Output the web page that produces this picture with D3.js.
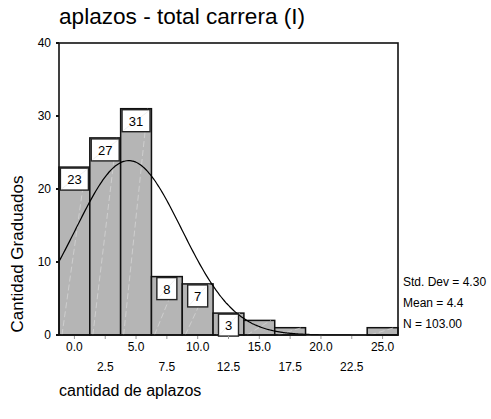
<!DOCTYPE html>
<html>
<head>
<meta charset="utf-8">
<script src="https://cdn.jsdelivr.net/npm/d3@7"></script>
<style>
  body { margin: 0; background: #fff; }
  text { font-family: "Liberation Sans", Arial, sans-serif; fill: #000; }
</style>
</head>
<body>
<svg id="hist" width="491" height="419"></svg>
<script>
// bin centres (cantidad de aplazos) and counts
const binCenters = [0, 2.5, 5, 7.5, 10, 12.5, 15, 17.5, 20, 22.5, 25];
const counts = [23, 27, 31, 8, 7, 3, 2, 1, 0, 0, 1];
const labelledBins = [0, 1, 2, 3, 4, 5];
const yTicks = [0, 10, 20, 30, 40];
const xTicksTop = [0, 5, 10, 15, 20, 25];
const xTicksBottom = [2.5, 7.5, 12.5, 17.5, 22.5];
const stats = ["Std. Dev = 4.30", "Mean = 4.4", "N = 103.00"];
const MEAN = 4.4, SD = 4.30, N = 103, BIN_W = 2.5;

let svg = d3.select("#hist");

let x = d3.scaleLinear().domain([-1.25, 26.25]).range([59, 398]),
    y = d3.scaleLinear().domain([0, 40]).range([335, 43]);

// title
svg.append("text")
  .attr("x", 59).attr("y", 24)
  .style("font-size", "22.6px")
  .text("aplazos - total carrera (I)");

// bars
let bars = svg.append("g").selectAll("g")
  .data(counts.map((c, i) => ({c: c, m: binCenters[i], i: i})).filter(d => d.c > 0))
  .enter().append("g");

bars.append("rect")
  .attr("x", d => x(d.m - BIN_W / 2))
  .attr("y", d => y(d.c))
  .attr("width", d => x(d.m + BIN_W / 2) - x(d.m - BIN_W / 2))
  .attr("height", d => y(0) - y(d.c))
  .attr("fill", "#b5b5b5")
  .attr("stroke", "#111")
  .attr("stroke-width", 1.5);

// faint light streaks inside the bars
bars.append("line")
  .attr("x1", d => x(d.m - BIN_W / 2) + 3)
  .attr("y1", y(0))
  .attr("x2", d => x(d.m + BIN_W / 2) - 4)
  .attr("y2", d => y(d.c))
  .attr("stroke", "#d9d9d9")
  .attr("stroke-width", 0.7)
  .attr("stroke-dasharray", "6,3");

// normal curve
let curvePts = d3.range(-1.25, 26.26, 0.125).map(v => [v,
  N * BIN_W / (SD * Math.sqrt(2 * Math.PI)) * Math.exp(-0.5 * Math.pow((v - MEAN) / SD, 2))]);
svg.append("path")
  .datum(curvePts)
  .attr("fill", "none")
  .attr("stroke", "#000")
  .attr("stroke-width", 1.2)
  .attr("d", d3.line().x(d => x(d[0])).y(d => y(d[1])).curve(d3.curveBasis));

// frame
svg.append("rect")
  .attr("x", x.range()[0]).attr("y", y.range()[1])
  .attr("width", x.range()[1] - x.range()[0])
  .attr("height", y.range()[0] - y.range()[1])
  .attr("fill", "none")
  .attr("stroke", "#111")
  .attr("stroke-width", 1.6);

// count labels in white boxes
let lab = svg.append("g").selectAll("g")
  .data(labelledBins.map(i => ({c: counts[i], m: binCenters[i]})))
  .enter().append("g")
  .attr("transform", d => "translate(" + x(d.m) + "," + (y(d.c) + 1) + ")");

lab.append("rect")
  .attr("x", d => String(d.c).length > 1 ? -14 : -10)
  .attr("y", 0)
  .attr("width", d => String(d.c).length > 1 ? 28 : 20)
  .attr("height", 22)
  .attr("fill", "#fff")
  .attr("stroke", "#222")
  .attr("stroke-width", 1.4);

lab.append("line")
  .attr("x1", d => String(d.c).length > 1 ? -13 : -9)
  .attr("y1", 21)
  .attr("x2", d => String(d.c).length > 1 ? 13 : 9)
  .attr("y2", 1)
  .attr("stroke", "#e6e6e6")
  .attr("stroke-width", 0.6);

lab.append("text")
  .attr("x", 0).attr("y", 16)
  .attr("text-anchor", "middle")
  .style("font-size", "13px")
  .text(d => d.c);

// y axis ticks
let yAxis = svg.append("g");
yAxis.selectAll("line").data(yTicks).enter().append("line")
  .attr("x1", 56).attr("x2", 59)
  .attr("y1", d => y(d)).attr("y2", d => y(d))
  .attr("stroke", "#111").attr("stroke-width", 2);
yAxis.selectAll("text").data(yTicks).enter().append("text")
  .attr("x", 51).attr("y", d => y(d) + 4)
  .attr("text-anchor", "end")
  .style("font-size", "12px")
  .text(d => d);

// x axis ticks
svg.append("g").selectAll("line").data(binCenters).enter().append("line")
  .attr("x1", d => x(d)).attr("x2", d => x(d))
  .attr("y1", 336).attr("y2", 339)
  .attr("stroke", "#999").attr("stroke-width", 1);

svg.append("g").selectAll("text").data(xTicksTop).enter().append("text")
  .attr("x", d => x(d)).attr("y", 351)
  .attr("text-anchor", "middle")
  .style("font-size", "12px")
  .text(d3.format(".1f"));

svg.append("g").selectAll("text").data(xTicksBottom).enter().append("text")
  .attr("x", d => x(d)).attr("y", 371)
  .attr("text-anchor", "middle")
  .style("font-size", "12px")
  .text(d3.format(".1f"));

// axis titles
svg.append("text")
  .attr("x", 59).attr("y", 396)
  .style("font-size", "16px")
  .text("cantidad de aplazos");

svg.append("text")
  .attr("transform", "translate(23,254) rotate(-90)")
  .attr("text-anchor", "middle")
  .style("font-size", "17px")
  .text("Cantidad Graduados");

// stats legend
svg.append("g").selectAll("text").data(stats).enter().append("text")
  .attr("x", 403).attr("y", (d, i) => 286 + i * 21)
  .style("font-size", "12px")
  .text(d => d);
</script>
</body>
</html>
